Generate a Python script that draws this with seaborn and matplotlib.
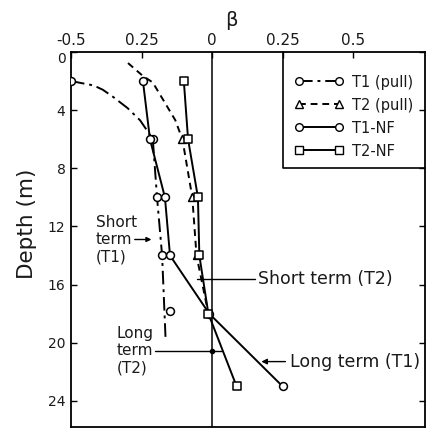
import numpy as np
import seaborn as sns
import matplotlib.pyplot as plt
from matplotlib.lines import Line2D

sns.set_theme(style="white")
plt.rcParams['font.family'] = ['DejaVu Sans']
plt.rcParams['text.color'] = '#1a1a1a'
plt.rcParams['axes.labelcolor'] = '#1a1a1a'
plt.rcParams['xtick.color'] = '#1a1a1a'
plt.rcParams['ytick.color'] = '#1a1a1a'

# T1 (pull): dash-dot curve and its markers
t1_pull_beta = [-0.5, -0.42, -0.387, -0.35, -0.30, -0.255, -0.227, -0.21, -0.195, -0.177, -0.165]
t1_pull_depth = [2, 2.3, 2.6, 3.1, 3.85, 4.7, 5.5, 6, 10, 14, 19.6]
t1_pull_mk_beta = [-0.5, -0.21, -0.195, -0.177, -0.15]
t1_pull_mk_depth = [2, 6, 10, 14, 17.8]

# T2 (pull): dashed curve and triangle markers
t2_pull_beta = [-0.298, -0.248, -0.21, -0.173, -0.13, -0.113, -0.105, -0.07, -0.055, -0.013]
t2_pull_depth = [0.76, 1.6, 2.1, 3.3, 4.7, 5.6, 6, 10, 14, 18]
t2_pull_mk_beta = [-0.105, -0.07, -0.055]
t2_pull_mk_depth = [6, 10, 14]

# T1-NF: circles, solid
t1_nf_beta = [-0.245, -0.22, -0.167, -0.149, -0.01, 0.25]
t1_nf_depth = [2, 6, 10, 14, 18, 23]

# T2-NF: squares, solid
t2_nf_beta = [-0.10, -0.085, -0.05, -0.045, -0.013, 0.087]
t2_nf_depth = [2, 6, 10, 14, 18, 23]

x_ticks = [-0.5, -0.25, 0, 0.25, 0.5]
x_tick_labels = ['-0.5', '0.25', '0', '0.25', '0.5']
y_ticks = [0, 4, 8, 12, 16, 20, 24]

fig = plt.figure(figsize=(4.28, 4.30), dpi=100)
ax = fig.add_axes([71 / 428, 3 / 430, 354 / 428, 375 / 430])

lw = 1.4
sns.lineplot(x=t1_pull_beta, y=t1_pull_depth, sort=False, estimator=None, orient="y",
             color="black", lw=lw, ax=ax)
ax.lines[-1].set_dashes([7, 2.5, 1.5, 2.5])
sns.lineplot(x=t2_pull_beta, y=t2_pull_depth, sort=False, estimator=None, orient="y",
             color="black", lw=lw, ax=ax)
ax.lines[-1].set_dashes([3.5, 2.5])
sns.lineplot(x=t1_nf_beta, y=t1_nf_depth, sort=False, estimator=None, orient="y",
             color="black", lw=lw, ax=ax)
sns.lineplot(x=t2_nf_beta, y=t2_nf_depth, sort=False, estimator=None, orient="y",
             color="black", lw=lw, ax=ax)

mk = dict(facecolor="white", edgecolor="black", linewidth=1.1, s=32, zorder=5, ax=ax)
sns.scatterplot(x=t1_pull_mk_beta, y=t1_pull_mk_depth, marker="o", **mk)
sns.scatterplot(x=t2_pull_mk_beta, y=t2_pull_mk_depth, marker="^", **mk)
sns.scatterplot(x=t1_nf_beta, y=t1_nf_depth, marker="o", **mk)
sns.scatterplot(x=t2_nf_beta, y=t2_nf_depth, marker="s", **mk)

ax.axvline(0, color="black", lw=1.1, zorder=1)

ax.set_xlim(-0.5, 0.755)
ax.set_ylim(25.8, 0)
ax.xaxis.tick_top()
ax.set_xticks(x_ticks)
ax.set_xticklabels(x_tick_labels)
ax.set_yticks(y_ticks)
ax.tick_params(direction="in", length=4, width=1, color="black", labelsize=10,
               top=True, right=True, bottom=False, left=True, labelright=False)
ax.tick_params(axis="x", pad=3, labelsize=11)
ax.tick_params(axis="y", pad=4)
ax.get_yticklabels()[0].set_verticalalignment("top")
for s in ax.spines.values():
    s.set_color("black")
    s.set_linewidth(1.3)

ax.set_ylabel("Depth (m)", fontsize=15.5)
ax.yaxis.set_label_coords(-0.096, 0.541)
fig.text(231 / 428, 1 - 21 / 430, "β", fontsize=14, ha="center", va="center")

# annotations
ts = 12.5
ax.text(-0.411, 12.9, "Short\nterm\n(T1)", fontsize=11, ha="left", va="center", linespacing=1.2)
ax.annotate("", xy=(-0.205, 12.9), xytext=(-0.284, 12.9),
            arrowprops=dict(arrowstyle="-|>", color="black", lw=1, mutation_scale=7))
ax.text(0.163, 15.6, "Short term (T2)", fontsize=ts, ha="left", va="center")
ax.plot([-0.053, 0.152], [15.6, 15.6], color="black", lw=1)
ax.text(-0.337, 20.55, "Long\nterm\n(T2)", fontsize=11, ha="left", va="center", linespacing=1.2)
ax.plot([-0.202, 0.035], [20.55, 20.55], color="black", lw=1)
ax.plot([0], [20.55], marker="o", ms=3, color="black")
ax.text(0.277, 21.3, "Long term (T1)", fontsize=ts, ha="left", va="center")
ax.annotate("", xy=(0.165, 21.3), xytext=(0.27, 21.3),
            arrowprops=dict(arrowstyle="-|>", color="black", lw=1, mutation_scale=8))

# legend (frame drawn as two lines: left and bottom edges)
mkw = dict(color="black", lw=lw, markerfacecolor="white", markeredgecolor="black", markersize=5.5)
handles = [
    Line2D([], [], marker="o", dashes=[7, 2.5, 1.5, 2.5], **mkw),
    Line2D([], [], marker="^", dashes=[3.5, 2.5], **mkw),
    Line2D([], [], marker="o", ls="-", **mkw),
    Line2D([], [], marker="s", ls="-", **mkw),
]
ax.legend(handles, ["T1 (pull)", "T2 (pull)", "T1-NF", "T2-NF"], loc="upper left",
          bbox_to_anchor=(0.633, 0.94), borderaxespad=0, numpoints=2, handlelength=3.3,
          frameon=False, fontsize=10.5, labelspacing=0.55, borderpad=0, handletextpad=0.6)
ax.plot([0.599, 0.599, 1.0], [1.0, 0.691, 0.691], transform=ax.transAxes,
        color="black", lw=1.2, clip_on=False)

fig.savefig("out.png", dpi=100, facecolor="white")
